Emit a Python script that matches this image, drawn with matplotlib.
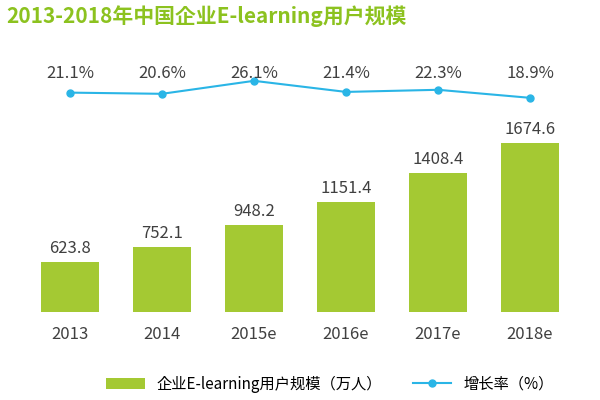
import matplotlib.pyplot as plt
import numpy as np

years = ['2013', '2014', '2015e', '2016e', '2017e', '2018e']
users = [623.8, 752.1, 948.2, 1151.4, 1408.4, 1674.6]
growth = [21.1, 20.6, 26.1, 21.4, 22.3, 18.9]

plt.rcParams['font.family'] = ['Noto Sans CJK JP', 'Noto Sans CJK SC', 'DejaVu Sans']
green = '#a4c933'
blue = '#2ab5e6'

fig = plt.figure(figsize=(6, 4), dpi=100)
ax = fig.add_axes([0.04, 0.22, 0.92, 0.66])
x = np.arange(len(years))
bars = ax.bar(x, users, width=0.64, color=green, label='企业E-learning用户规模（万人）')
ax.set_ylim(182, 2514)
ax.set_xlim(-0.5, 5.5)
for xi, v in zip(x, users):
    ax.text(xi, v + 45, f'{v:.1f}', ha='center', va='bottom', fontsize=12, color='#404040')
ax.set_xticks(x)
ax.set_xticklabels(years, fontsize=12, color='#404040')
ax.tick_params(length=0, pad=10)
ax.set_yticks([])
for s in ax.spines.values():
    s.set_visible(False)

ax2 = ax.twinx()
line, = ax2.plot(x, growth, color=blue, marker='o', markersize=5, lw=1.5, label='增长率（%）')
ax2.set_ylim(-71.8, 40)
ax2.set_yticks([])
for s in ax2.spines.values():
    s.set_visible(False)
for xi, g in zip(x, growth):
    ax2.text(xi, 29.4, f'{g:.1f}%', ha='center', va='center', fontsize=12, color='#404040')

fig.text(0.01, 0.96, '2013-2018年中国企业E-learning用户规模', fontsize=15, color='#8cc21f',
         fontweight='bold', va='center')
fig.legend(handles=[bars, line], loc='center', bbox_to_anchor=(0.55, 0.04), ncol=2,
           frameon=False, fontsize=11, handlelength=2.5, columnspacing=2)
fig.savefig('out.png')
